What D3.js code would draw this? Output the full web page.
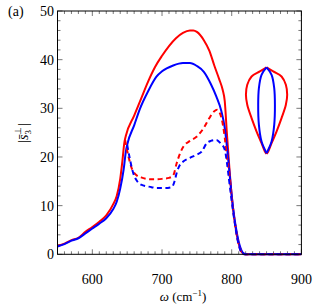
<!DOCTYPE html>
<html><head><meta charset="utf-8">
<script src="https://cdn.jsdelivr.net/npm/d3@7"></script>
<style>body{margin:0;background:#fff}svg{display:block}text{font-family:'Liberation Serif',serif;fill:#000}</style>
</head><body><svg id="c" width="321" height="305"></svg>
<script>
// data
const redSolidW = [550,560,570,580,590,600,610,620,630,635,640,643,646,648,660,670,680,690,700,710,720,730,740,745,750,760,768,775,782,787,790,793,796,800,804,808,812,816,820,900];
const redSolidV = [1.7,2.2,2.9,3.4,4.6,5.6,6.7,8.0,10.3,12.0,15.5,19.0,23.0,24.3,28.5,32,35.5,38.5,40.8,42.8,44.4,45.5,46.0,46.0,45.7,44.0,41.8,38.8,36,33.8,31.5,25,19,12,7,3.5,1.2,0.2,0,0];
const blueSolidW = [550,560,570,580,590,600,610,620,630,635,640,645,648,650,660,668,680,692,700,716,730,740,750,760,770,778,785,790,794,798,802,806,810,814,818,822,900];
const blueSolidV = [1.6,2.1,2.8,3.3,4.3,5.3,6.3,7.4,9.3,10.8,13.5,17.5,21,22.5,26.5,29.8,33.5,36.5,37.6,38.8,39.3,39.3,38.7,37.5,35,32.4,29.5,26,21,15,9.5,5.5,2.6,0.8,0.1,0,0];
const redDashW = [647,652,657,663,670,685,700,710,716,721,726,731,740,750,760,768,775,779,783,786,790,793,796,800,804,808,812,816,820,900];
const redDashV = [23.5,20,17.5,16.3,15.8,15.4,15.5,15.7,16.2,18.7,20.8,22.2,23.3,24.2,26,28,29.4,29.7,29,27.6,24,20,17,11.5,7,3.4,1.1,0.1,0,0];
const blueDashW = [650,654,658,663,670,685,692,705,714,718,721,725,730,740,750,757,764,770,778,784,790,793,796,800,804,808,812,816,820,900];
const blueDashV = [22.5,19.5,17,15.3,14.3,13.8,13.6,13.6,13.8,15,16.7,18.2,19,19.8,20.5,21.1,22.8,23.3,23.5,22.8,21.5,19,15.5,11,6.8,3.3,1,0.1,0,0];
// inset shapes (half-width in cm^-1, value)
const insetCenter = 850;
const insetRedDx = [0,9.6,21.5,27.7,29.6,27.7,21.5,14.3,7.2,2.4,0];
const insetRedV  = [38.4,37.58,36.55,34.84,32.78,30.72,27.98,25.23,22.84,21.11,20.64];
const insetBlueDx = [0,7.2,11,12,11,7.2,0];
const insetBlueV  = [38.4,36.89,34.15,30.72,26.6,23.17,20.78];
const xTickLabels = [600,700,800,900];
const yTickLabels = [0,10,20,30,40,50];

const svg = d3.select("#c");
const L=57.5,R=301.4,T=11,B=254.3;
const x = d3.scaleLinear().domain([550,900]).range([L,R]);
const y = d3.scaleLinear().domain([0,50]).range([B,T]);

// ticks
const tk = svg.append("g").attr("stroke","#555").attr("stroke-width",0.8);
const xMinor = d3.range(550,901,10), yMinor = d3.range(0,51,2);
xMinor.forEach(v=>{
  const maj = v%100===0; const len = maj?5:3;
  tk.append("line").attr("x1",x(v)).attr("x2",x(v)).attr("y1",B).attr("y2",B-len);
  tk.append("line").attr("x1",x(v)).attr("x2",x(v)).attr("y1",T).attr("y2",T+len);
});
yMinor.forEach(v=>{
  const maj = v%10===0; const len = maj?5:3;
  tk.append("line").attr("y1",y(v)).attr("y2",y(v)).attr("x1",L).attr("x2",L+len);
  tk.append("line").attr("y1",y(v)).attr("y2",y(v)).attr("x1",R).attr("x2",R-len);
});

const line = d3.line().x(d=>x(d[0])).y(d=>y(d[1])).curve(d3.curveMonotoneX);
const zip=(a,b)=>a.map((v,i)=>[v,b[i]]);
const g = svg.append("g").attr("fill","none").attr("stroke-width",2).attr("stroke-linejoin","round");
g.append("path").attr("d",line(zip(redSolidW,redSolidV))).attr("stroke","#ff0000");
g.append("path").attr("d",line(zip(blueSolidW,blueSolidV))).attr("stroke","#0000ff");
g.append("path").attr("d",line(zip(redDashW,redDashV))).attr("stroke","#ff0000").attr("stroke-dasharray","5,3.5");
g.append("path").attr("d",line(zip(blueDashW,blueDashV))).attr("stroke","#0000ff").attr("stroke-dasharray","5,3.5");

// inset
const yl = d3.line().x(d=>x(d[0])).y(d=>y(d[1])).curve(d3.curveCatmullRom);
[[insetRedDx,insetRedV,"#ff0000"],[insetBlueDx,insetBlueV,"#0000ff"]].forEach(([dx,v,c])=>{
  [1,-1].forEach(s=>{
    g.append("path").attr("d",yl(dx.map((d,i)=>[insetCenter+s*d,v[i]]))).attr("stroke",c);
  });
});

// frame
svg.append("rect").attr("x",L).attr("y",T).attr("width",R-L).attr("height",B-T).attr("fill","none").attr("stroke","#000").attr("stroke-width",1);

// tick labels
xTickLabels.forEach(v=>svg.append("text").attr("x",x(v)).attr("y",284).attr("text-anchor","middle").attr("font-size",14).text(v));
yTickLabels.forEach(v=>svg.append("text").attr("x",54).attr("y",y(v)+5).attr("text-anchor","end").attr("font-size",14).text(v));

// axis labels
const xl = svg.append("text").attr("x",183).attr("y",301).attr("text-anchor","middle").attr("font-size",13);
xl.append("tspan").attr("font-style","italic").text("ω");
xl.append("tspan").text(" (cm");
xl.append("tspan").attr("font-size",9).attr("dy",-5).text("−1");
xl.append("tspan").attr("dy",5).text(")");

const ylab = svg.append("text").attr("transform","translate(28,133) rotate(-90)").attr("text-anchor","middle").attr("font-size",14);
ylab.append("tspan").text("|");
ylab.append("tspan").attr("font-style","italic").text("s\u0304");
ylab.append("tspan").attr("font-size",9).attr("dy",3).text("3");
ylab.append("tspan").attr("font-size",9).attr("dx",-5).attr("dy",-10).text("⊥");
ylab.append("tspan").attr("dy",7).attr("dx",1).text("|");

svg.append("text").attr("x",8).attr("y",16).attr("font-size",14).text("(a)");
</script></body></html>
